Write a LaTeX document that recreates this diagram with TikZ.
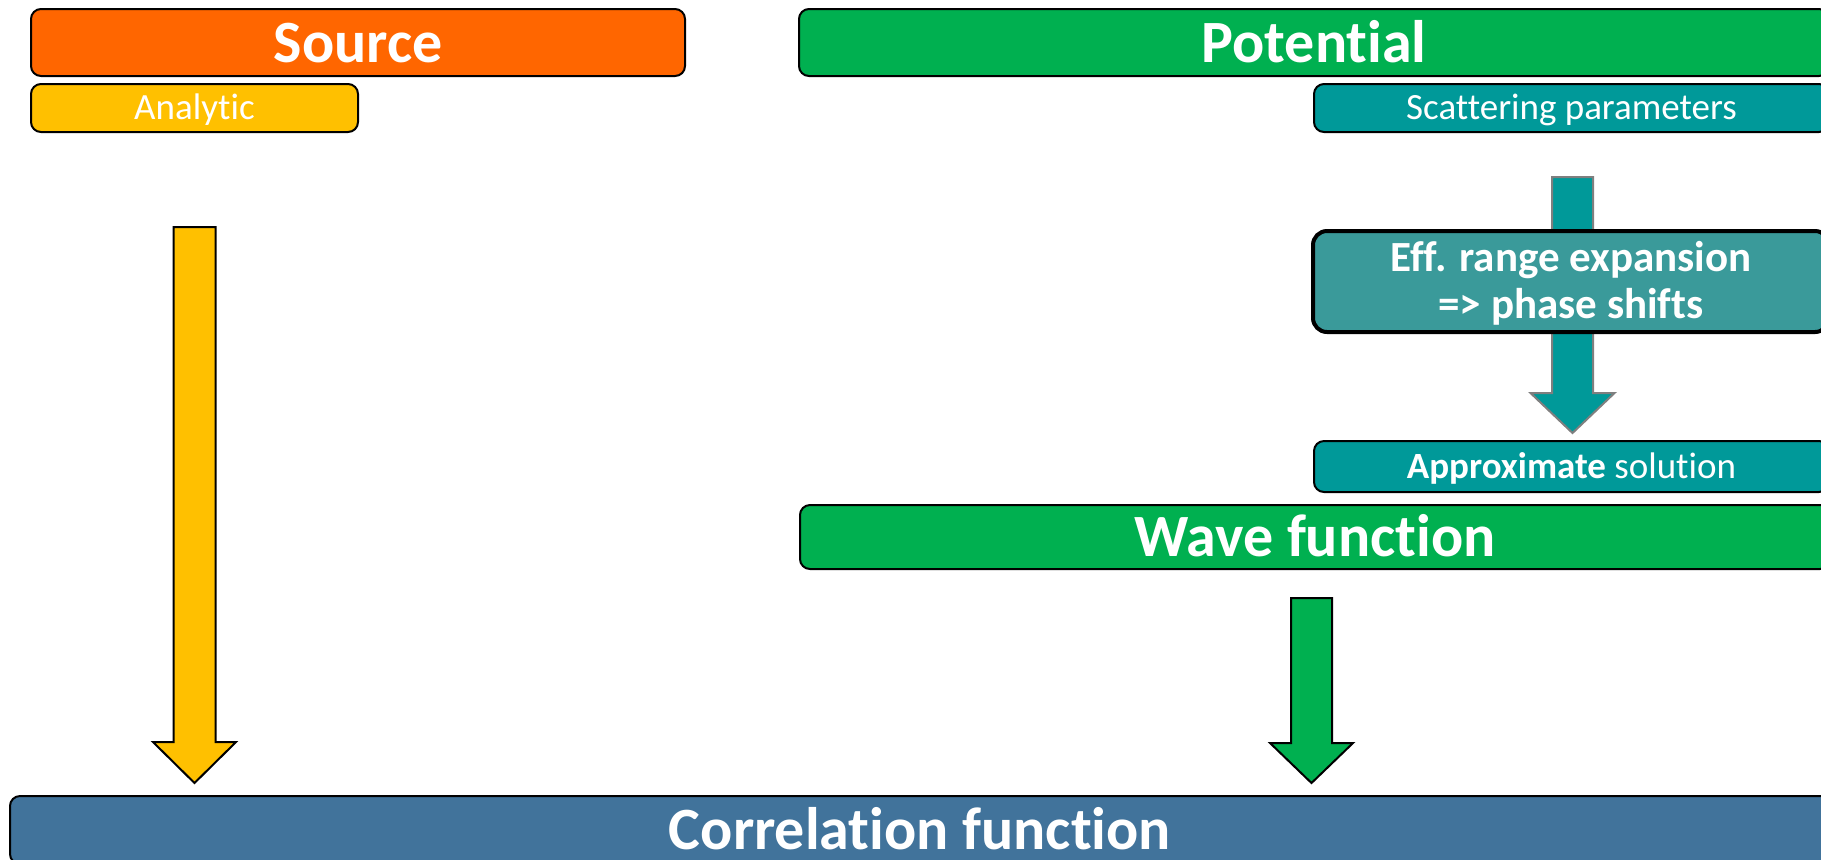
\documentclass[tikz,border=0pt]{standalone}
\usepackage{fontspec}
\setmainfont{Carlito}[RawFeature={-liga;-clig;-calt}]
\usetikzlibrary{calc}
\definecolor{cOrange}{HTML}{FF6600}
\definecolor{cYellow}{HTML}{FFC000}
\definecolor{cGreen}{HTML}{00B050}
\definecolor{cTeal}{HTML}{009999}
\definecolor{cTealLight}{HTML}{3A9A9A}
\definecolor{cBlue}{HTML}{41739B}
\definecolor{cGrayLine}{HTML}{7F7F7F}
\newcommand\blockarr[6]{%
  \draw[#1] ($(#2)+(-#4,0)$) -- ($(#2)+(#4,0)$) -- ($(#3)+(#4,-#6)$) -- ($(#3)+(#5,-#6)$) -- (#3) -- ($(#3)+(-#5,-#6)$) -- ($(#3)+(-#4,-#6)$) -- cycle;}
\begin{document}
\begin{tikzpicture}[x=0.5pt,y=-0.5pt,
  box/.style={draw=black, line width=1pt, rounded corners=5pt, inner sep=0pt, outer sep=0pt, text=white, align=center},
  big/.style={font=\bfseries\fontsize{30}{36}\selectfont, text height=19.5pt, text depth=0pt},
  small/.style={font=\fontsize{18.5}{22}\selectfont, text height=11.9pt, text depth=0pt},
  barrow/.style={line width=1pt, line join=miter},
]
\useasboundingbox (0,0) rectangle (1821,859);
\clip (0,0) rectangle (1821,859);

% top row
\node[box, big, fill=cOrange, minimum width=327pt, minimum height=33.5pt] (src) at (358,42.5) {Source};
\node[box, small, fill=cYellow, minimum width=163.5pt, minimum height=24pt] (ana) at (194.5,108) {Analytic};
\node[box, big, fill=cGreen, minimum width=515pt, minimum height=33.5pt] (pot) at (1314,42.5) {Potential};
\node[box, small, fill=cTeal, minimum width=257.5pt, minimum height=24pt] (scat) at (1571.5,108) {Scattering parameters};

% teal arrow (behind the expansion box)
\coordinate (tTop) at (1572.5,177);
\coordinate (tTip) at (1572.5,433);
\blockarr{barrow, fill=cTeal, draw=cGrayLine}{tTop}{tTip}{20.5}{42}{40}

\node[box, fill=cTealLight, line width=2pt, rounded corners=7pt, minimum width=258pt, minimum height=50.5pt,
      font=\bfseries\fontsize{21.5}{23.5}\selectfont, text height=37.3pt, text depth=0pt] (eff) at (1571,281.5)
      {Eff. range expansion\\=> phase shifts};

\node[box, small, fill=cTeal, minimum width=257.5pt, minimum height=25.5pt] (appr) at (1571.5,466.5) {\textbf{Approximate} solution};
\node[box, big, fill=cGreen, minimum width=515pt, minimum height=32pt] (wave) at (1315,537) {Wave function};

\node[box, big, fill=cBlue, minimum width=910pt, minimum height=34pt] (corr) at (920,830) {Correlation function};

% yellow arrow: source -> correlation
\coordinate (yTop) at (194.5,227);
\coordinate (yTip) at (194.5,783);
\blockarr{barrow, fill=cYellow, draw=black}{yTop}{yTip}{21}{41.5}{41}

% green arrow: wave function -> correlation
\coordinate (gTop) at (1311.5,598);
\coordinate (gTip) at (1311.5,783);
\blockarr{barrow, fill=cGreen, draw=black}{gTop}{gTip}{20.5}{41.5}{40}
\end{tikzpicture}
\end{document}
